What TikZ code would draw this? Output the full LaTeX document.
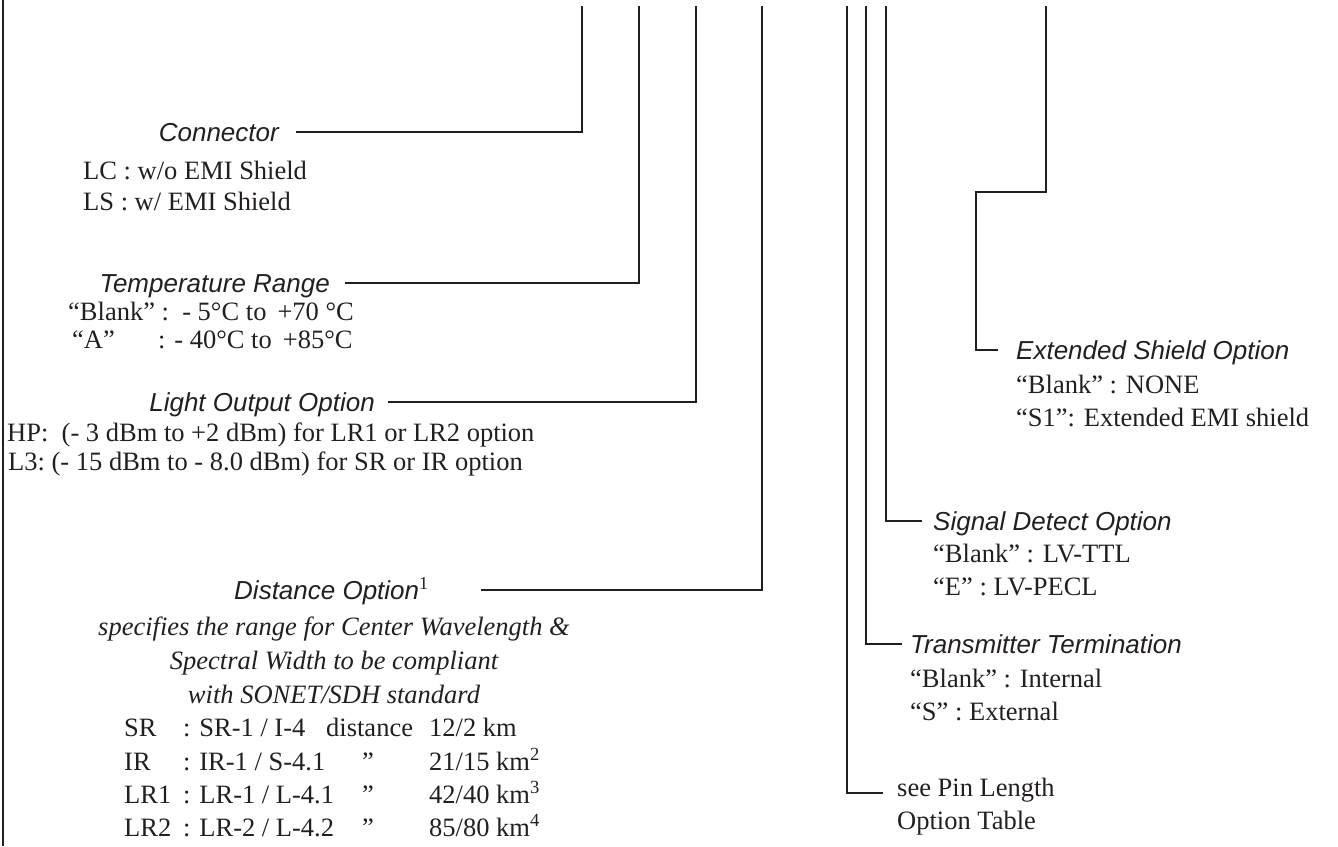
\documentclass[tikz,border=0pt]{standalone}
\usepackage{fontspec}
\setmainfont{Liberation Serif}
\newfontfamily\hsans{Liberation Sans}
\definecolor{ink}{HTML}{231F20}
\begin{document}
\begin{tikzpicture}[x=1pt,y=-1pt,
  ln/.style={line width=2pt,draw=ink},
  hdr/.style={font=\hsans\itshape\fontsize{26}{30}\selectfont,inner sep=0pt,text height=21pt,text depth=3pt,text=ink},
  txt/.style={font=\fontsize{26.5}{30}\selectfont,inner sep=0pt,anchor=base west,text=ink},
  itx/.style={font=\itshape\fontsize{26.5}{30}\selectfont,inner sep=0pt,anchor=base,text=ink}]
\useasboundingbox (0,0) rectangle (1338,846);
% border
\coordinate (bt) at (3,0);
\coordinate (bb) at (3,846);
\draw[ln] (bt) -- (bb);
% tops of leader lines
\foreach \n/\x in {t1/582,t2/639,t3/696,t4/762,t5/847,t6/866,t7/886,t8/1046}
  \coordinate (\n) at (\x,6);
\coordinate (k1) at (1046,192);
\coordinate (k2) at (976,192);

% headers
\node[hdr,anchor=east] (conn)  at (279,132) {Connector};
\node[hdr,anchor=east] (temp)  at (330,283) {Temperature Range};
\node[hdr,anchor=east] (light) at (375,402) {Light Output Option};
\node[hdr,anchor=east] (dist)  at (429,590) {Distance Option\textsuperscript{\rmfamily\upshape 1}};
\node[hdr,anchor=west] (ext)   at (1016,350) {Extended Shield Option};
\node[hdr,anchor=west] (sig)   at (933,521) {Signal Detect Option};
\node[hdr,anchor=west] (trm)   at (910,644) {Transmitter Termination};

% connector block
\node[txt] (lc) at (83,179) {LC : w/o EMI Shield};
\node[txt] (ls) at (83,210) {LS : w/ EMI Shield};
% temperature block
\node[txt] (tb) at (68,320) {“Blank” :\ \ - 5°C to \,+70 °C};
\node[txt] (ta1) at (72,348) {“A”};
\node[txt] (ta2) at (158,348) {: - 40°C to \,+85°C};
% light output block
\node[txt] (hp) at (7,441) {HP:\ \ (- 3 dBm to +2 dBm) for LR1 or LR2 option};
\node[txt] (l3) at (8,470) {L3:\ (- 15 dBm to - 8.0 dBm) for SR or IR option};
% distance block
\node[itx] (d1) at (334,635) {specifies the range for Center Wavelength \&};
\node[itx] (d2) at (334,669) {Spectral Width to be compliant};
\node[itx] (d3) at (334,703) {with SONET/SDH standard};
\node[txt] (r1a) at (124,736) {SR};
\node[txt] (r1b) at (183,736) {: SR-1 / I-4};
\node[txt] (r1c) at (326,736) {distance};
\node[txt] (r1d) at (429,736) {12/2 km};
\node[txt] (r2a) at (124,770) {IR};
\node[txt] (r2b) at (183,770) {: IR-1 / S-4.1};
\node[txt,anchor=base] (r2c) at (368,770) {”};
\node[txt] (r2d) at (429,770) {21/15 km\textsuperscript{2}};
\node[txt] (r3a) at (124,803) {LR1};
\node[txt] (r3b) at (183,803) {: LR-1 / L-4.1};
\node[txt,anchor=base] (r3c) at (368,803) {”};
\node[txt] (r3d) at (429,803) {42/40 km\textsuperscript{3}};
\node[txt] (r4a) at (124,836) {LR2};
\node[txt] (r4b) at (183,836) {: LR-2 / L-4.2};
\node[txt,anchor=base] (r4c) at (368,836) {”};
\node[txt] (r4d) at (429,836) {85/80 km\textsuperscript{4}};
% right side blocks
\node[txt] (e1) at (1016,393) {“Blank” : NONE};
\node[txt] (e2) at (1016,426) {“S1”: Extended EMI shield};
\node[txt] (s1) at (933,562) {“Blank” : LV-TTL};
\node[txt] (s2) at (933,595) {“E” : LV-PECL};
\node[txt] (x1) at (910,687) {“Blank” : Internal};
\node[txt] (x2) at (910,720) {“S” : External};
\node[txt] (p1) at (897,796) {see Pin Length};
\node[txt] (p2) at (897,829) {Option Table};

% leader lines
\draw[ln] ([xshift=17pt]conn.east) -| (t1);
\draw[ln] ([xshift=15pt]temp.east) -| (t2);
\draw[ln] ([xshift=13pt]light.east) -| (t3);
\draw[ln] ([xshift=52pt]dist.east) -| (t4);
\draw[ln] (t8) -- (k1) -- (k2) |- ([xshift=-18pt]ext.west);
\draw[ln] (t7) |- ([xshift=-11pt]sig.west);
\draw[ln] (t6) |- ([xshift=-8pt]trm.west);
\draw[ln] (t5) |- ([xshift=-14pt,yshift=-3pt]p1.west);
\end{tikzpicture}
\end{document}
